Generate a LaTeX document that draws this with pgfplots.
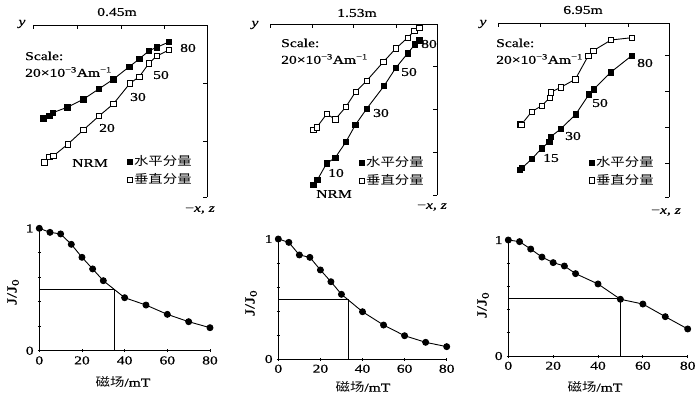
\documentclass[border=0pt]{standalone}
\usepackage{fontspec}
\setmainfont{Liberation Serif}[FakeStretch=1.3, FakeBold=0.6]
\newfontfamily\cjk{Noto Sans CJK SC}[FakeStretch=1.2]
\usepackage{pgfplots}
\pgfplotsset{compat=1.18}
\pgfplotsset{
  zij/.style={scale only axis, clip=false, axis x line=top, axis y line=right,
    axis line style={-, line width=0.8pt}, tick align=inside, major tick length=4pt,
    xticklabels={}, yticklabels={}, tick style={line width=0.8pt, black},
    legend cell align=left,
    legend image code/.code={\draw[##1] plot coordinates {(0pt,0pt)};},
    legend style={draw=none, fill=none, inner sep=0pt, row sep=3pt,
      nodes={inner sep=1.5pt}, anchor=north west, font=\fontsize{12pt}{14pt}\cjk}},
  fil/.style={black, line width=0.9pt, mark=square*, mark size=2.7pt, mark options={solid, fill=black}},
  opn/.style={black, line width=0.9pt, mark=square*, mark size=2.7pt, mark options={solid, fill=white}},
  dem/.style={scale only axis, clip=false, axis x line=bottom, axis y line=left,
    axis line style={-, line width=0.8pt}, tick style={line width=0.8pt, black},
    xmin=0, xmax=80, ymin=0, ymax=1,
    xtick={0,20,40,60,80}, ytick={0,0.2,0.4,0.6,0.8,1}, yticklabels={0,,,,,1},
    major tick length=3pt, /pgf/number format/assume math mode=true,
    tick label style={font=\fontsize{12pt}{14pt}\selectfont}},
  crv/.style={black, line width=0.9pt, mark=*, mark size=3pt},
  hv/.style={black, line width=0.8pt, mark=none}
}
\begin{document}
\fontsize{12pt}{14pt}\selectfont
\begin{tikzpicture}[font=\fontsize{12pt}{14pt}\selectfont]
\path[use as bounding box] (0pt,0pt) rectangle (700pt,-398pt);

% ---------- top panel 1 (0.45m)
\begin{axis}[zij, at={(33pt,-197pt)}, anchor=south west, width=174pt, height=172pt,
  xmin=33, xmax=207, ymin=-197, ymax=-25,
  xtick={33,77,121,164}, ytick={-197,-141,-83},
  legend style={at={(0.540,0.250)}}]
\addlegendimage{only marks, mark=square*, mark size=2.7pt, mark options={fill=black}}
\addlegendentry{水平分量}
\addlegendimage{only marks, mark=square*, mark size=2.7pt, mark options={fill=white}}
\addlegendentry{垂直分量}
\addplot[fil, forget plot] coordinates {(43.3,-118.3)(49.3,-116)(52.7,-112.7)(67.3,-107.3)(83.3,-99.3)(98.7,-89)(113.3,-79.3)(129.3,-66.7)(139.3,-59)(149,-50.7)(156.7,-47.3)(169,-42)};
\addplot[opn, forget plot] coordinates {(44.3,-162.3)(49.3,-156.7)(53.3,-156)(67.7,-144.3)(83.3,-130)(99,-116)(113.3,-104)(130,-83.3)(139.3,-76.7)(149,-63.3)(156.7,-56)(169,-50)};
\end{axis}

% ---------- top panel 2 (1.53m)
\begin{axis}[zij, at={(270pt,-195pt)}, anchor=south west, width=167pt, height=171pt,
  xmin=270, xmax=437, ymin=-195, ymax=-24,
  xtick={270,312,353,396}, ytick={-195,-152,-109,-66},
  legend style={at={(0.533,0.234)}}]
\addlegendimage{only marks, mark=square*, mark size=2.7pt, mark options={fill=black}}
\addlegendentry{水平分量}
\addlegendimage{only marks, mark=square*, mark size=2.7pt, mark options={fill=white}}
\addlegendentry{垂直分量}
\addplot[fil, forget plot] coordinates {(313.3,-185)(317.3,-180)(326.7,-163.3)(335.3,-157.7)(346,-141.7)(355.3,-125)(366.7,-108.7)(384,-86)(395.7,-68)(407.7,-53.3)(415,-44.3)(419.3,-40.3)};
\addplot[opn, forget plot] coordinates {(313.3,-130)(316.7,-127.3)(326.7,-114)(335.3,-119.3)(346,-106.7)(355.7,-91.7)(366.7,-80.7)(383.3,-62)(396,-48.3)(407.7,-37.7)(414.3,-31)(419.3,-27.7)};
\end{axis}

% ---------- top panel 3 (6.95m)
\begin{axis}[zij, at={(498pt,-197pt)}, anchor=south west, width=171pt, height=174pt,
  xmin=498, xmax=669, ymin=-197, ymax=-23,
  xtick={498,540,585,628}, ytick={-197,-163,-127,-91,-55},
  legend style={at={(0.532,0.242)}}]
\addlegendimage{only marks, mark=square*, mark size=2.7pt, mark options={fill=black}}
\addlegendentry{水平分量}
\addlegendimage{only marks, mark=square*, mark size=2.7pt, mark options={fill=white}}
\addlegendentry{垂直分量}
\addplot[fil, forget plot] coordinates {(520,-170)(522,-168)(531.7,-159)(541.7,-148.3)(549.3,-141.7)(550.7,-136.7)(560.7,-129)(575.7,-114.3)(589,-94.3)(593.7,-89.3)(610.7,-72.3)(631.7,-55.7)};
\addplot[opn, forget plot] coordinates {(520,-124.3)(521.3,-124.7)(531.7,-111.7)(541.7,-105.7)(550,-97.7)(550.7,-92.3)(560.7,-87.3)(575.3,-79.3)(588.3,-55.7)(593.3,-50.7)(611,-40)(631.7,-37.7)};
\end{axis}

% ---------- bottom panel 1
\begin{axis}[dem, at={(39.3pt,-350.7pt)}, anchor=south west, width=170.7pt, height=122.4pt]
\addplot[hv] coordinates {(0,0.5)(35,0.5)(35,0)};
\addplot[crv] coordinates {(0,1.0)(5,0.967)(10,0.954)(15,0.869)(20,0.763)(25,0.668)(30,0.572)(40,0.433)(50,0.373)(60,0.297)(70,0.237)(80,0.188)};
\end{axis}

% ---------- bottom panel 2
\begin{axis}[dem, at={(278.3pt,-359pt)}, anchor=south west, width=168.4pt, height=120pt]
\addplot[hv] coordinates {(0,0.5)(33.3,0.5)(33.3,0)};
\addplot[crv] coordinates {(0,1.0)(5,0.972)(10,0.867)(15,0.847)(20,0.742)(25,0.644)(30,0.539)(40,0.394)(50,0.283)(60,0.194)(70,0.139)(80,0.103)};
\end{axis}

% ---------- bottom panel 3
\begin{axis}[dem, at={(508.3pt,-356pt)}, anchor=south west, width=179.4pt, height=116pt]
\addplot[hv] coordinates {(0,0.5)(50,0.5)(50,0)};
\addplot[crv] coordinates {(0,1.0)(5,0.986)(10,0.922)(15,0.853)(20,0.805)(25,0.776)(30,0.710)(40,0.621)(50,0.489)(60,0.448)(70,0.339)(80,0.233)};
\end{axis}

% ---------- text
\node at (117pt,-12pt) {0.45m};
\node at (357pt,-13pt) {1.53m};
\node at (583pt,-10pt) {6.95m};
\node at (22pt,-24pt) {\textit{y}};
\node at (255pt,-25pt) {\textit{y}};
\node at (483pt,-24pt) {\textit{y}};
\node at (200pt,-210pt) {−\textit{x}, \textit{z}};
\node at (432pt,-207pt) {−\textit{x}, \textit{z}};
\node at (666pt,-212pt) {−\textit{x}, \textit{z}};
\foreach \xx/\yy in {25/56, 281/43, 496/43}{
  \node[anchor=west, inner sep=0pt] at (\xx pt,-\yy pt) {Scale:};
  \node[anchor=west, inner sep=0pt] at (\xx pt,-\yy pt-16pt) {20×10\textsuperscript{−3}Am\textsuperscript{−1}};
}
\node at (188pt,-48pt) {80};
\node at (161pt,-75pt) {50};
\node at (138pt,-97pt) {30};
\node at (107pt,-128pt) {20};
\node at (90pt,-163pt) {NRM};
\node at (429pt,-44pt) {80};
\node at (409pt,-72pt) {50};
\node at (381pt,-113pt) {30};
\node at (336pt,-173pt) {10};
\node at (334pt,-194pt) {NRM};
\node at (645pt,-63pt) {80};
\node at (600pt,-103pt) {50};
\node at (573pt,-136pt) {30};
\node at (551pt,-158pt) {15};
\node[rotate=90, font=\fontsize{14pt}{16pt}\selectfont] at (13pt,-292pt) {J/J\textsubscript{0}};
\node[rotate=90, font=\fontsize{14pt}{16pt}\selectfont] at (251pt,-303pt) {J/J\textsubscript{0}};
\node[rotate=90, font=\fontsize{14pt}{16pt}\selectfont] at (483pt,-305pt) {J/J\textsubscript{0}};
\node at (123pt,-382pt) {{\cjk 磁场}/mT};
\node at (363pt,-387pt) {{\cjk 磁场}/mT};
\node at (595pt,-387pt) {{\cjk 磁场}/mT};
\end{tikzpicture}
\end{document}
